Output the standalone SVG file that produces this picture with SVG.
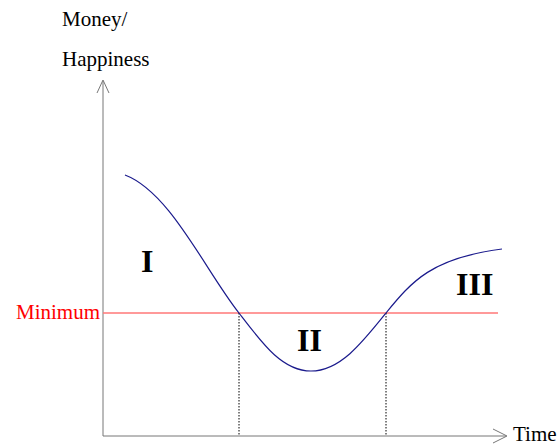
<svg xmlns="http://www.w3.org/2000/svg" width="559" height="446" viewBox="0 0 559 446">
<style>
.t{font-family:"Liberation Serif","Times New Roman",serif;font-size:21px;fill:#000}
.ax{stroke:#777;stroke-width:1;fill:none}
.lab{font-family:"Liberation Serif","Times New Roman",serif;font-weight:bold;font-size:32px;fill:#000}
.dot{stroke:#000;stroke-width:1;stroke-dasharray:1.5,1.5}
</style>
<rect width="559" height="446" fill="#fff"/>
<g id="axes">
<line class="ax" x1="103" y1="81" x2="103" y2="436"/>
<polyline class="ax" points="97,93 103,80 109,93"/>
<line class="ax" x1="103" y1="436" x2="506" y2="436"/>
<polyline class="ax" points="493,429 507,436 493,443"/>
</g>
<g id="connectors">
<line x1="103" y1="313" x2="498" y2="313" stroke="#f77" stroke-width="1.5"/>
<line class="dot" x1="239" y1="313" x2="239" y2="436"/>
<line class="dot" x1="386" y1="313" x2="386" y2="436"/>
<path d="M125,175 C170,192 205,270 239,313 C262,343 282,371 311,371 C340,371 362,343 386,313 C412,281 432,258 502,249" fill="none" stroke="#1a1a8c" stroke-width="1.2"/>
</g>
<g id="labels">
<text class="t" x="62" y="26">Money/</text>
<text class="t" x="62" y="66">Happiness</text>
<text class="t" x="100" y="319" style="fill:#f00" text-anchor="end">Minimum</text>
<text class="t" x="513" y="441">Time</text>
<text class="lab" x="141" y="272">I</text>
<text class="lab" x="297" y="351">II</text>
<text class="lab" x="456" y="295">III</text>
</g>
</svg>
